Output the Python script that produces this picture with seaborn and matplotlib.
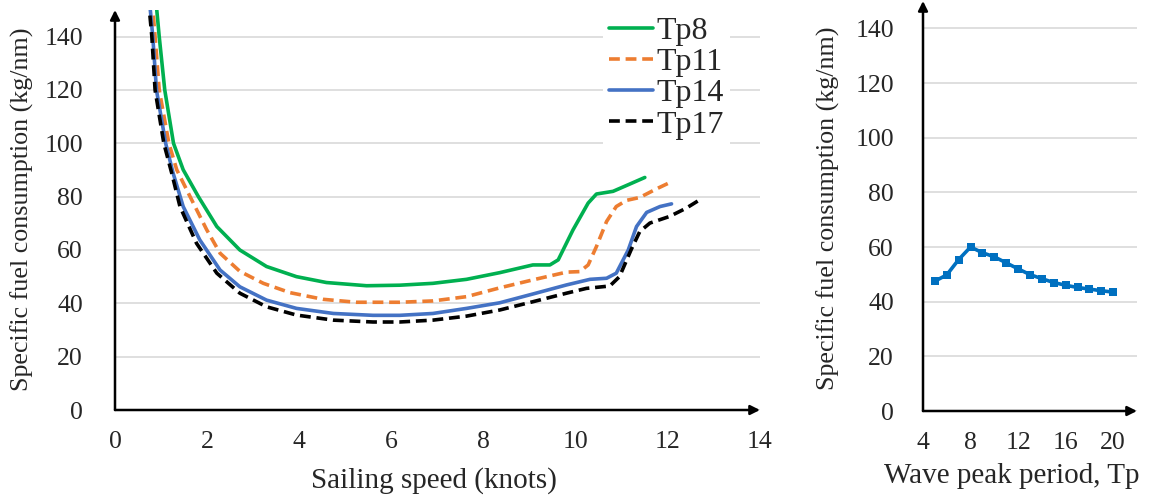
import numpy as np
import pandas as pd
import matplotlib
matplotlib.use("Agg")
import matplotlib.pyplot as plt
import seaborn as sns

# ---- data ----
tp8_speed = [0.88, 0.96, 1.08, 1.27, 1.48, 1.81, 2.21, 2.71, 3.29, 3.94, 4.59, 5.46, 6.18, 6.9, 7.63, 8.35, 9.07, 9.44, 9.62, 9.94, 10.27, 10.45, 10.81, 11.17, 11.5]
tp8_sfc = [155, 140, 120, 100, 90.1, 80, 68.8, 60, 53.8, 50.0, 47.8, 46.6, 46.8, 47.5, 49.0, 51.5, 54.4, 54.4, 56.3, 67.5, 77.6, 81.0, 82.0, 84.7, 87.2]

tp11_speed = [0.80, 0.87, 0.96, 1.17, 1.34, 1.63, 1.99, 2.28, 2.71, 3.22, 3.80, 4.52, 5.24, 6.18, 6.9, 7.63, 8.35, 9.07, 9.80, 10.09, 10.27, 10.45, 10.67, 10.88, 11.10, 11.39, 11.75, 12.08]
tp11_sfc = [155, 140, 120, 100, 90.1, 80, 67.6, 58.8, 52.0, 47.5, 44.0, 41.5, 40.4, 40.4, 40.9, 42.5, 45.8, 48.8, 51.7, 51.9, 54.4, 61.3, 70.7, 76.3, 78.6, 79.7, 82.9, 85.6]

tp14_speed = [0.74, 0.82, 0.90, 1.10, 1.26, 1.48, 1.84, 2.28, 2.71, 3.29, 3.94, 4.74, 5.60, 6.18, 6.9, 7.63, 8.35, 9.07, 9.80, 10.31, 10.67, 10.88, 11.14, 11.32, 11.54, 11.83, 12.08]
tp14_sfc = [155, 140, 120, 100, 88.9, 76.3, 63.8, 52.5, 46.2, 41.2, 38.1, 36.2, 35.5, 35.5, 36.2, 38.1, 40.2, 43.5, 46.9, 49.0, 49.4, 51.3, 60.0, 68.8, 74.1, 76.3, 77.3]

tp17_speed = [0.72, 0.80, 0.87, 1.06, 1.23, 1.41, 1.77, 2.21, 2.71, 3.29, 3.94, 4.74, 5.60, 6.18, 6.9, 7.63, 8.35, 9.07, 9.80, 10.23, 10.74, 10.95, 11.20, 11.39, 11.61, 12.04, 12.40, 12.69]
tp17_sfc = [155, 140, 120, 100, 88.9, 76.3, 62.5, 51.3, 43.8, 38.7, 35.6, 33.7, 33.0, 33.0, 33.7, 35.2, 37.5, 40.6, 43.8, 45.6, 46.5, 50.0, 60.0, 66.9, 70.1, 72.6, 75.7, 78.8]

series_names = ["Tp8", "Tp11", "Tp14", "Tp17"]

wave_tp = [5, 6, 7, 8, 9, 10, 11, 12, 13, 14, 15, 16, 17, 18, 19, 20]
wave_sfc = [47.5, 49.8, 55.4, 60.0, 57.9, 56.4, 54.2, 52.0, 49.9, 48.4, 47.0, 46.0, 45.2, 44.6, 44.0, 43.5]

left_xticks = [0, 2, 4, 6, 8, 10, 12, 14]
right_xticks = [4, 8, 12, 16, 20]
yticks = [0, 20, 40, 60, 80, 100, 120, 140]

# ---- styling ----
sns.set_style("white")
plt.rcParams["font.family"] = ["Liberation Serif", "DejaVu Serif"]

colors = {"Tp8": "#00B050", "Tp11": "#ED7D31", "Tp14": "#4472C4", "Tp17": "#000000"}
dashes = {"Tp8": "", "Tp11": (3, 1.6), "Tp14": "", "Tp17": (3, 1.6)}

df = pd.concat([
    pd.DataFrame({"speed": tp8_speed, "sfc": tp8_sfc, "series": "Tp8"}),
    pd.DataFrame({"speed": tp11_speed, "sfc": tp11_sfc, "series": "Tp11"}),
    pd.DataFrame({"speed": tp14_speed, "sfc": tp14_sfc, "series": "Tp14"}),
    pd.DataFrame({"speed": tp17_speed, "sfc": tp17_sfc, "series": "Tp17"}),
], ignore_index=True)
dfw = pd.DataFrame({"tp": wave_tp, "sfc": wave_sfc})

W, H = 1154, 498
fig = plt.figure(figsize=(W / 100, H / 100), dpi=100)
ax1 = fig.add_axes([115 / W, (H - 410) / H, 645 / W, 400 / H])
ax2 = fig.add_axes([923 / W, (H - 411) / H, 214 / W, 410 / H])

sns.lineplot(data=df, x="speed", y="sfc", hue="series", style="series",
             hue_order=series_names, style_order=series_names,
             palette=colors, dashes=dashes, linewidth=2.6, sort=False,
             estimator=None, ax=ax1, zorder=3)
for ln in ax1.get_lines():
    ln.set_solid_joinstyle("round")
    ln.set_dash_joinstyle("round")

sns.lineplot(data=dfw, x="tp", y="sfc", color="#0070C0", linewidth=2.6,
             marker="s", markersize=6, markeredgewidth=0, ax=ax2, zorder=3)

tick_fs = 18.5
ylabel_fs = 18.7
xlabel_fs = 21


def style_axes(ax, xlim, xticks, ypad, xpad):
    ax.set_xlim(*xlim)
    ax.set_ylim(0, 150)
    ax.set_yticks(yticks)
    ax.set_xticks(xticks)
    ax.yaxis.grid(True, color="#d9d9d9", linewidth=1.2, zorder=0)
    ax.xaxis.grid(False)
    for s in ax.spines.values():
        s.set_visible(False)
    ax.tick_params(axis="both", length=0, labelsize=tick_fs)
    ax.tick_params(axis="y", pad=ypad)
    ax.tick_params(axis="x", pad=xpad)
    ax.annotate("", xy=(1.0, 0), xytext=(0, 0), xycoords="axes fraction",
                arrowprops=dict(arrowstyle="-|>", color="black", lw=1.8,
                                mutation_scale=14, shrinkA=0, shrinkB=0), zorder=5)
    ax.annotate("", xy=(0, 1.0), xytext=(0, 0), xycoords="axes fraction",
                arrowprops=dict(arrowstyle="-|>", color="black", lw=1.8,
                                mutation_scale=14, shrinkA=0, shrinkB=0), zorder=5)


style_axes(ax1, (0, 14), left_xticks, 23, 15)
style_axes(ax2, (4, 22), right_xticks, 21, 15)

ax1.set_xlabel("Sailing speed (knots)", fontsize=xlabel_fs, va="center")
ax1.set_ylabel("Specific fuel consumption (kg/nm)", fontsize=ylabel_fs, va="center")
ax1.xaxis.set_label_coords(0.494, -0.1775)
ax1.yaxis.set_label_coords(-0.143, 0.5025)

ax2.set_xlabel("Wave peak period, Tp", fontsize=xlabel_fs, va="center")
ax2.set_ylabel("Specific fuel consumption (kg/nm)", fontsize=ylabel_fs, va="center")
ax2.xaxis.set_label_coords(0.416, -0.1585)
ax2.yaxis.set_label_coords(-0.444, 0.495)

leg = ax1.legend(loc="upper left", bbox_to_anchor=((603 - 115) / 645, (410 - 10) / 400),
                 fontsize=23, handlelength=1.35, handletextpad=0.12,
                 labelspacing=0.06, borderpad=0.2, borderaxespad=0,
                 frameon=True, fancybox=False)
leg.get_frame().set_facecolor("white")
leg.get_frame().set_edgecolor("none")
leg.get_frame().set_alpha(1)
for h in leg.get_lines():
    h.set_linewidth(2.6)

fig.savefig("out.png", dpi=100)
